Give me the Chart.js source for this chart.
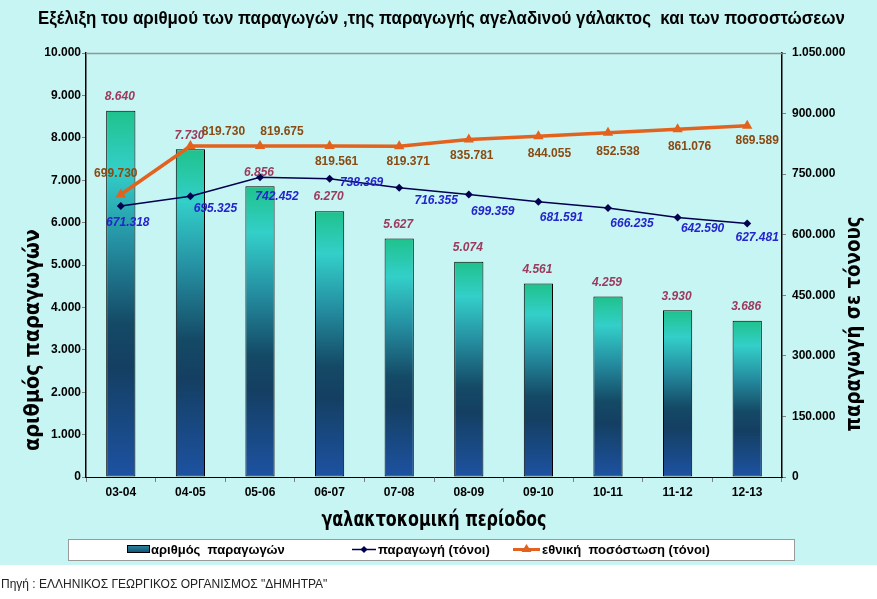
<!DOCTYPE html>
<html><head><meta charset="utf-8">
<script src="https://cdn.jsdelivr.net/npm/chart.js@4.4.1/dist/chart.umd.min.js"></script>
<style>html,body{margin:0;padding:0;background:#fff;overflow:hidden}#wrap{width:877px;height:599px}</style>
</head><body><div id="wrap"><canvas id="c" width="877" height="599"></canvas></div>
<script>
// ---- data ----
const categories = ['03-04','04-05','05-06','06-07','07-08','08-09','09-10','10-11','11-12','12-13'];
const producers  = [8640, 7730, 6856, 6270, 5627, 5074, 4561, 4259, 3930, 3686];
const production = [671318, 695325, 742452, 738369, 716355, 699359, 681591, 666235, 642590, 627481];
const quota      = [699730, 819730, 819675, 819561, 819371, 835781, 844055, 852538, 861076, 869589];
const leftAxis  = {min: 0, max: 10000, step: 1000};
const rightAxis = {min: 0, max: 1050000, step: 150000};
const seriesNames = ['αριθμός  παραγωγών', 'παραγωγή (τόνοι)', 'εθνική  ποσόστωση (τόνοι)'];
const titleText = 'Εξέλιξη του αριθμού των παραγωγών ,της παραγωγής αγελαδινού γάλακτος  και των ποσοστώσεων';
const xTitle = 'γαλακτοκομική περίοδος';
const yTitle = 'αριθμός παραγωγών';
const y2Title = 'παραγωγή σε τόνους';
const sourceText = 'Πηγή : ΕΛΛΗΝΙΚΟΣ ΓΕΩΡΓΙΚΟΣ ΟΡΓΑΝΙΣΜΟΣ "ΔΗΜΗΤΡΑ"';

// label placement (style only)
const prodLabelOffsets  = [[7,17],[25,12],[17,19],[32,4],[37,13],[24,17],[23,16],[24,16],[25,11],[10,14]];
const quotaLabelOffsets = [[-5,-21],[33,-14],[22,-14],[7,16],[9,16],[3,16],[11,18],[10,19],[12,17],[10,15]];

const FONT = '"Liberation Sans", Arial, sans-serif';
const fmt = v => String(Math.round(v)).replace(/\B(?=(\d{3})+(?!\d))/g, '.');

function barGradient(c, top, bottom) {
  const g = c.createLinearGradient(0, top, 0, bottom);
  g.addColorStop(0, '#1fc28c');
  g.addColorStop(0.16, '#33cfc9');
  g.addColorStop(0.36, '#2590a2');
  g.addColorStop(0.58, '#144a66');
  g.addColorStop(0.70, '#143f62');
  g.addColorStop(1, '#1d52a2');
  return g;
}

function drawFit(c, text, x, y, width, font, color, rot, align) {
  c.save();
  c.font = font; c.fillStyle = color; c.textBaseline = 'middle';
  c.textAlign = align || 'center';
  c.translate(x, y);
  if (rot) c.rotate(rot);
  const w = c.measureText(text).width;
  if (width) c.scale(width / w, 1);
  c.fillText(text, 0, 0);
  c.restore();
}

const bgPlugin = {
  id: 'bg',
  beforeDraw(chart) {
    const c = chart.ctx;
    c.save();
    c.fillStyle = '#ffffff'; c.fillRect(0, 0, 877, 599);
    c.fillStyle = '#c7f5f3'; c.fillRect(0, 0, 877, 565);
    c.restore();
  },
  afterDraw(chart) {
    const c = chart.ctx, a = chart.chartArea;
    // top border
    c.save();
    c.strokeStyle = '#8a9a98'; c.lineWidth = 1.5;
    c.beginPath(); c.moveTo(a.left, a.top + 0.5); c.lineTo(a.right, a.top + 0.5); c.stroke();
    c.restore();
    // title
    drawFit(c, titleText, 38, 19, 807, 'bold 18px "Liberation Sans Narrow", ' + FONT, '#000', 0, 'left');
    // axis titles
    drawFit(c, xTitle, 434, 521, 225, 'bold 21px "DejaVu Sans", ' + FONT, '#000', 0);
    drawFit(c, yTitle, 34, 340, 222, 'bold 21px "DejaVu Sans", ' + FONT, '#000', -Math.PI / 2);
    drawFit(c, y2Title, 855, 324, 215, 'bold 21px "DejaVu Sans", ' + FONT, '#000', -Math.PI / 2);
    // legend box
    c.save();
    c.fillStyle = '#ffffff'; c.fillRect(68, 539, 726, 21);
    c.strokeStyle = '#9a9a9a'; c.lineWidth = 1; c.strokeRect(68.5, 539.5, 726, 21);
    // swatch 1
    const g = c.createLinearGradient(0, 545, 0, 553);
    g.addColorStop(0, '#2a8ca0'); g.addColorStop(1, '#164a70');
    c.fillStyle = g; c.fillRect(127, 545, 22, 8);
    c.strokeStyle = '#000'; c.strokeRect(127.5, 545.5, 22, 7);
    // swatch 2
    c.strokeStyle = '#000050'; c.lineWidth = 1.5;
    c.beginPath(); c.moveTo(352, 549.5); c.lineTo(376, 549.5); c.stroke();
    c.fillStyle = '#000050';
    c.beginPath(); c.moveTo(364, 546); c.lineTo(367.5, 549.5); c.lineTo(364, 553); c.lineTo(360.5, 549.5); c.closePath(); c.fill();
    // swatch 3
    c.strokeStyle = '#e2621e'; c.lineWidth = 3;
    c.beginPath(); c.moveTo(513, 549.5); c.lineTo(540, 549.5); c.stroke();
    c.fillStyle = '#e2621e';
    c.beginPath(); c.moveTo(526.5, 544); c.lineTo(531.5, 552); c.lineTo(521.5, 552); c.closePath(); c.fill();
    c.fillStyle = '#000'; c.font = 'bold 13px ' + FONT; c.textBaseline = 'middle'; c.textAlign = 'left';
    c.fillText(seriesNames[0], 151, 550);
    c.fillText(seriesNames[1], 378, 550);
    c.fillText(seriesNames[2], 542, 550);
    // source
    c.fillStyle = '#222'; c.font = '12px ' + FONT;
    c.fillText(sourceText, 1, 585);
    c.restore();
  },
  afterDatasetsDraw(chart) {
    const c = chart.ctx;
    c.save();
    c.textAlign = 'center'; c.textBaseline = 'middle';
    // bar labels
    const m0 = chart.getDatasetMeta(0);
    c.font = 'italic bold 12px ' + FONT; c.fillStyle = '#9b3a5c';
    m0.data.forEach((el, i) => c.fillText(fmt(producers[i]), el.x - 1, el.y - 14));
    // production labels
    const m1 = chart.getDatasetMeta(1);
    c.fillStyle = '#2424cc';
    m1.data.forEach((el, i) => c.fillText(fmt(production[i]), el.x + prodLabelOffsets[i][0], el.y + prodLabelOffsets[i][1]));
    // quota labels
    const m2 = chart.getDatasetMeta(2);
    c.font = 'bold 12px ' + FONT; c.fillStyle = '#8a4a12';
    m2.data.forEach((el, i) => c.fillText(fmt(quota[i]), el.x + quotaLabelOffsets[i][0], el.y + quotaLabelOffsets[i][1]));
    c.restore();
  }
};

Chart.defaults.font.family = FONT;

new Chart(document.getElementById('c'), {
  type: 'bar',
  data: {
    labels: categories,
    datasets: [
      {
        label: seriesNames[0], data: producers, yAxisID: 'y', order: 3,
        backgroundColor: (ctx) => {
          const ch = ctx.chart;
          if (!ch.chartArea || ctx.raw == null) return '#1a6a80';
          const top = ch.scales.y.getPixelForValue(ctx.raw);
          const bottom = ch.scales.y.getPixelForValue(0);
          return barGradient(ch.ctx, top, bottom);
        },
        borderColor: '#000', borderWidth: 1, borderSkipped: false,
        categoryPercentage: 1.0, barPercentage: 0.42
      },
      {
        type: 'line', label: seriesNames[1], data: production, yAxisID: 'y2', order: 1,
        borderColor: '#000050', borderWidth: 1.5, backgroundColor: '#000050',
        pointStyle: 'rectRot', pointRadius: 4, pointBorderWidth: 0, tension: 0, fill: false
      },
      {
        type: 'line', label: seriesNames[2], data: quota, yAxisID: 'y2', order: 0,
        borderColor: '#e2621e', borderWidth: 3.5, backgroundColor: '#e2621e',
        pointStyle: 'triangle', pointRadius: 6, pointBorderWidth: 0, tension: 0, fill: false
      }
    ]
  },
  options: {
    responsive: false, animation: false, devicePixelRatio: 1,
    layout: {padding: {top: 53, left: 0, right: 0, bottom: 0}},
    plugins: {legend: {display: false}, title: {display: false}, tooltip: {enabled: false}},
    scales: {
      x: {
        offset: true,
        grid: {display: true, drawOnChartArea: false, offset: true, tickLength: 5, color: '#808080'},
        border: {display: true, color: '#000', width: 1},
        ticks: {color: '#000', font: {weight: 'bold', size: 12}, padding: 3, maxRotation: 0},
        afterFit: s => { s.height = 122; }
      },
      y: {
        position: 'left', min: leftAxis.min, max: leftAxis.max,
        grid: {display: true, drawOnChartArea: false, tickLength: 4, color: '#808080'},
        border: {display: true, color: '#000', width: 1.5},
        ticks: {stepSize: leftAxis.step, color: '#000', font: {weight: 'bold', size: 12}, padding: 1, callback: v => fmt(v)},
        afterFit: s => { s.width = 86; }
      },
      y2: {
        position: 'right', min: rightAxis.min, max: rightAxis.max,
        grid: {display: true, drawOnChartArea: false, tickLength: 4, color: '#808080'},
        border: {display: true, color: '#000', width: 1.5},
        ticks: {stepSize: rightAxis.step, color: '#000', font: {weight: 'bold', size: 12}, padding: 6, callback: v => fmt(v)},
        afterFit: s => { s.width = 95; }
      }
    }
  },
  plugins: [bgPlugin]
});
</script></body></html>
